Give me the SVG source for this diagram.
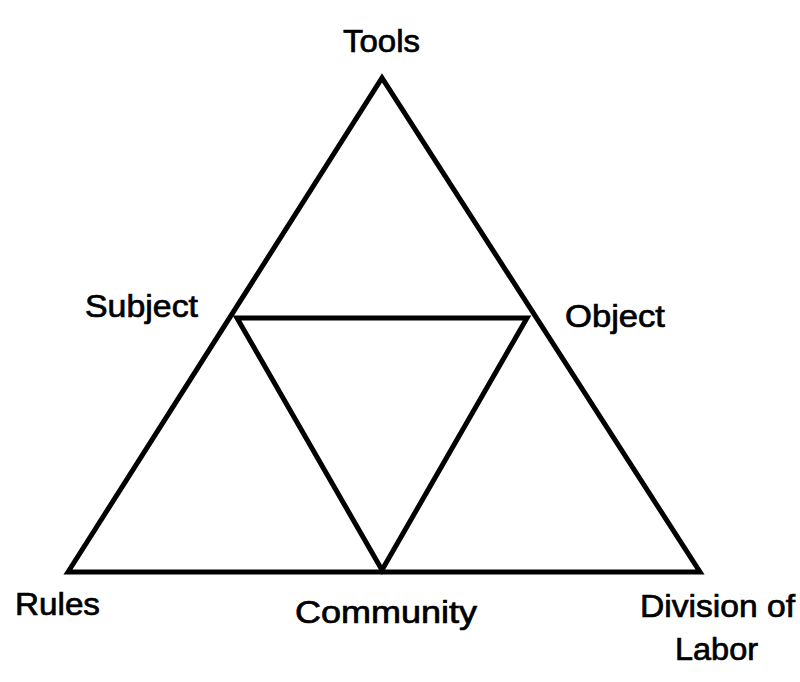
<svg xmlns="http://www.w3.org/2000/svg" width="800" height="682" viewBox="0 0 800 682">
<style>
.t{font-family:"Liberation Sans",Arial,sans-serif;font-size:31px;fill:#000;stroke:#000;stroke-width:0.7;}
.ln{fill:none;stroke:#000;stroke-width:5;stroke-linejoin:miter;}
</style>
<rect width="800" height="682" fill="#fff"/>
<g id="connectors">
<polygon class="ln" points="68,572 382,78 700,572"/>
<polygon class="ln" points="237,318 527,318 382,570"/>
</g>
<g id="tools"><text class="t" x="343" y="52" textLength="77" lengthAdjust="spacingAndGlyphs">Tools</text></g>
<g id="subject"><text class="t" x="85" y="317" textLength="113" lengthAdjust="spacingAndGlyphs">Subject</text></g>
<g id="object"><text class="t" x="565" y="327" textLength="100" lengthAdjust="spacingAndGlyphs">Object</text></g>
<g id="rules"><text class="t" x="15" y="615" textLength="85" lengthAdjust="spacingAndGlyphs">Rules</text></g>
<g id="community"><text class="t" x="295" y="623" textLength="182" lengthAdjust="spacingAndGlyphs">Community</text></g>
<g id="division"><text class="t" x="640" y="617" textLength="155" lengthAdjust="spacingAndGlyphs">Division of</text>
<text class="t" x="675" y="660" textLength="83" lengthAdjust="spacingAndGlyphs">Labor</text></g>
</svg>
